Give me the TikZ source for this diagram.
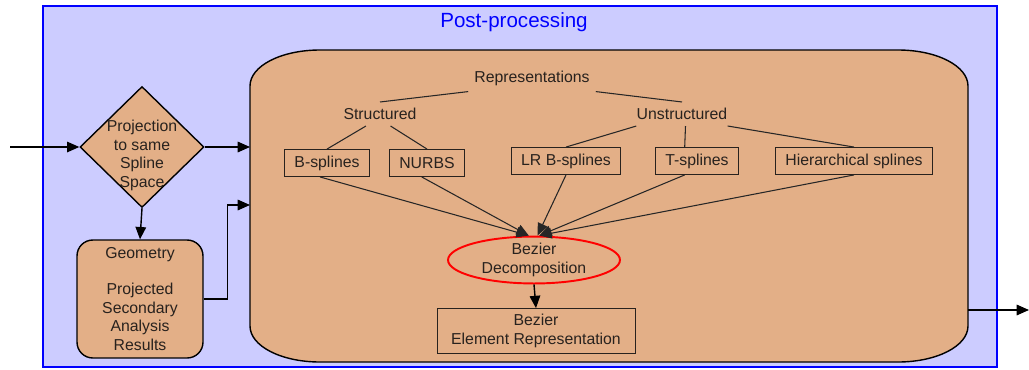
\documentclass[tikz,border=0pt]{standalone}
\usepackage{fontspec}
\setmainfont{Liberation Sans}
\usetikzlibrary{shapes.geometric,arrows.meta}
\definecolor{boxtan}{RGB}{227,175,135}
\definecolor{panelblue}{RGB}{204,204,255}
\definecolor{inkgrey}{RGB}{40,34,30}
\tikzset{
  txt/.style={font=\fontsize{9}{10.5}\selectfont, text=inkgrey},
  splbox/.style={txt, draw=inkgrey, line width=0.5pt, inner xsep=0.2cm, minimum height=0.54cm},
  link/.style={draw=black!85, line width=0.6pt},
}
\begin{document}
\begin{tikzpicture}[x=0.02cm, y=-0.02cm, >={Triangle[length=7pt,width=6pt]}]
    \useasboundingbox (0,0) rectangle (1029,369);
    % post-processing panel
    \draw[blue, line width=1pt, fill=panelblue] (43,6) rectangle (997,367);
    \node[font=\fontsize{11.7}{14}\selectfont, text=blue] (title) at (514,22) {Post-processing};
    % representations container
    \draw[thick, fill=boxtan] (320,50) -- (898,50) .. controls (937,50) and (968,66) .. (968,86)
        -- (968,326) .. controls (968,346) and (937,362) .. (898,362)
        -- (320,362) .. controls (281,362) and (250,346) .. (250,326)
        -- (250,86) .. controls (250,66) and (281,50) .. (320,50) -- cycle;
    \coordinate (src) at (10,147);
    \coordinate (inL1) at (250,147);
    \coordinate (inL2) at (250,205);
    \coordinate (outR) at (968,310);
    \coordinate (exit) at (1029,310);

    \node[diamond, draw, thick, fill=boxtan, txt, align=center, inner sep=-9pt,
          minimum width=2.48cm, minimum height=2.42cm] (proj) at (142,147)
          {\mbox{}\\[5.5pt]Projection\\to same\\Spline\\Space};
    \node[rectangle, rounded corners=9pt, draw, thick, fill=boxtan, txt, align=center,
          minimum width=2.52cm, minimum height=2.36cm] (geom) at (140,299)
          {Geometry\\[10pt]Projected\\Secondary\\Analysis\\Results};

    \node[txt] (rep) at (532,78) {Representations};
    \node[txt] (struct) at (380,114) {Structured};
    \node[txt] (unstr) at (682,114) {Unstructured};
    \node[splbox] (bspl) at (327,163) {B-splines};
    \node[splbox] (nurbs) at (427,163) {NURBS};
    \node[splbox] (lrb) at (566,161) {LR B-splines};
    \node[splbox] (tspl) at (697,161) {T-splines};
    \node[splbox] (hier) at (854,161) {Hierarchical splines};
    \node[ellipse, draw=red, line width=1.1pt, txt, align=center, inner sep=0pt,
          minimum width=3.44cm, minimum height=0.92cm] (bezdec) at (534,260)
          {Bezier\\Decomposition};
    \node[splbox, align=center, minimum width=3.96cm, minimum height=0.88cm] (bezel) at (536,331)
          {Bezier\\Element Representation};

    % tree
    \draw[link] (rep.south west) -- (struct.north);
    \draw[link] (rep.south east) -- (unstr.north);
    \draw[link] ([xshift=-8pt]struct.south) -- (bspl.north);
    \draw[link] ([xshift=6pt]struct.south) -- (nurbs.north);
    \draw[link] ([xshift=-26pt]unstr.south) -- (lrb.north);
    \draw[link] ([xshift=2pt]unstr.south) -- ([xshift=-7pt]tspl.north);
    \draw[link] ([xshift=26pt]unstr.south) -- (hier.north);
    \draw[link, ->] ([xshift=-4pt]bspl.south) -- ([xshift=-3pt]bezdec.north);
    \draw[link, ->] ([xshift=-3pt]nurbs.south) -- ([xshift=-3pt]bezdec.north);
    \draw[link, ->] (lrb.south) -- ([xshift=2pt]bezdec.north);
    \draw[link, ->] ([xshift=-7pt]tspl.south) -- ([xshift=3pt]bezdec.north);
    \draw[link, ->] (hier.south) -- ([xshift=3pt]bezdec.north);
    \draw[thick, ->] (bezdec.south) -- (bezel.north);

    % flow
    \draw[thick, ->] (src) -- (proj.west);
    \draw[thick, ->] (proj.east) -- (inL1);
    \draw[thick, ->] (proj.south) -- (geom.north);
    \draw[thick, ->] (geom.east) -- ++(24,0) |- (inL2);
    \draw[thick, ->] (outR) -- (exit);
\end{tikzpicture}
\end{document}
